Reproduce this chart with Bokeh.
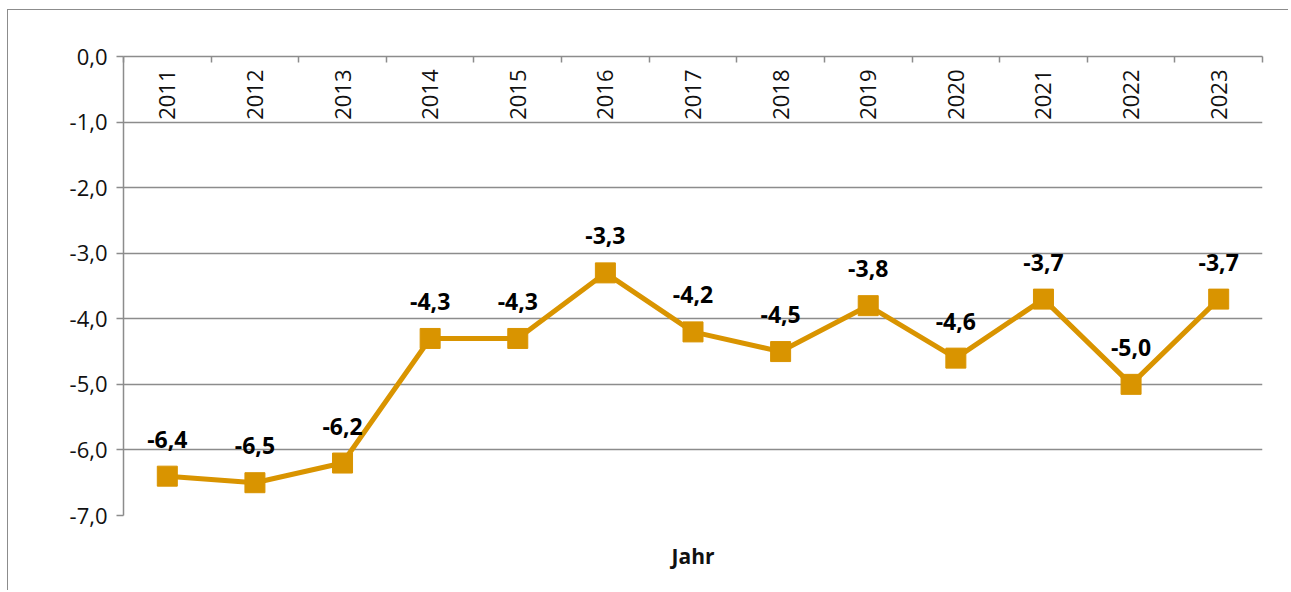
import math
from bokeh.plotting import figure
from bokeh.models import (Range1d, FixedTicker, LinearAxis, ColumnDataSource)
from bokeh.core.properties import value
from bokeh.embed import file_html
from bokeh.resources import INLINE

# ---- data ----
years = ["2011", "2012", "2013", "2014", "2015", "2016", "2017",
         "2018", "2019", "2020", "2021", "2022", "2023"]
values = [-6.4, -6.5, -6.2, -4.3, -4.3, -3.3, -4.2, -4.5, -3.8, -4.6, -3.7, -5.0, -3.7]
y_ticks = [0, -1, -2, -3, -4, -5, -6, -7]
y_tick_labels = ["0,0", "-1,0", "-2,0", "-3,0", "-4,0", "-5,0", "-6,0", "-7,0"]
x_title = "Jahr"

LINE_COLOR = "#D99400"
GRID = "#8c8c8c"
TXT = "#111111"

n = len(years)
idx = list(range(n))
src = ColumnDataSource(dict(
    i=idx,
    year=years,
    val=values,
    lab=[f"{v:.1f}".replace(".", ",") for v in values],
    zero=[0.0] * n,
))

p = figure(width=1281, height=581,
           x_range=Range1d(-0.5, n - 0.5),
           y_range=Range1d(min(y_ticks), max(y_ticks)),
           x_axis_location=None, y_axis_location="left",
           output_backend="svg", toolbar_location=None,
           min_border_left=115, min_border_top=46,
           min_border_right=27, min_border_bottom=76)
p.styles = {"margin-left": "7px", "margin-top": "9px",
            "border-left": "1px solid #8c8c8c", "border-top": "1px solid #8c8c8c"}
p.outline_line_color = None
p.background_fill_color = "white"
p.border_fill_color = "white"

# y axis
ya = p.yaxis[0]
ya.ticker = FixedTicker(ticks=y_ticks)
ya.major_label_overrides = {t: l for t, l in zip(y_ticks, y_tick_labels)}
ya.axis_line_color = GRID
ya.axis_line_width = 1.5
ya.major_tick_line_color = GRID
ya.major_tick_line_width = 1.5
ya.major_tick_out = 7
ya.major_tick_in = 0
ya.minor_tick_line_color = None
ya.major_label_standoff = 9
ya.major_label_text_font = "Open Sans"
ya.major_label_text_font_size = "22px"
ya.major_label_text_color = TXT

p.ygrid.ticker = FixedTicker(ticks=y_ticks)
p.ygrid.grid_line_color = GRID
p.ygrid.grid_line_width = 1.5
p.xgrid.grid_line_color = None

# top axis with boundary ticks between categories (no labels)
ta = LinearAxis(ticker=FixedTicker(ticks=[k - 0.5 for k in range(n + 1)]),
                major_tick_in=6, major_tick_out=0,
                major_tick_line_color=GRID, major_tick_line_width=1.5,
                axis_line_color=GRID, axis_line_width=1.5,
                minor_tick_line_color=None,
                major_label_text_color=None, major_label_standoff=0)
p.add_layout(ta, "above")

# bottom axis only for the title "Jahr"
ba = LinearAxis(ticker=FixedTicker(ticks=[]),
                axis_line_color=None, major_tick_line_color=None,
                minor_tick_line_color=None,
                major_label_text_color=None, major_label_standoff=0,
                axis_label=x_title,
                axis_label_text_font="Open Sans",
                axis_label_text_font_style="bold",
                axis_label_text_font_size="21px",
                axis_label_text_color=TXT,
                axis_label_standoff=26)
p.add_layout(ba, "below")

# year labels inside plot, rotated
p.text(x="i", y="zero", text="year", source=src,
       angle=math.pi / 2, text_align="right", text_baseline="middle",
       y_offset=13,
       text_font=value("Open Sans"),
       text_font_size="22px", text_color=TXT)

# series
p.line(x="i", y="val", source=src, line_color=LINE_COLOR, line_width=5)
p.scatter(x="i", y="val", source=src, marker="square", size=20,
          fill_color=LINE_COLOR, line_color=LINE_COLOR)

# data labels
p.text(x="i", y="val", text="lab", source=src,
       text_align="center", text_baseline="middle", y_offset=-37,
       text_font=value("Open Sans"), text_font_style="bold",
       text_font_size="23px", text_color="#000000")

open("out.html", "w").write(file_html(p, INLINE))
